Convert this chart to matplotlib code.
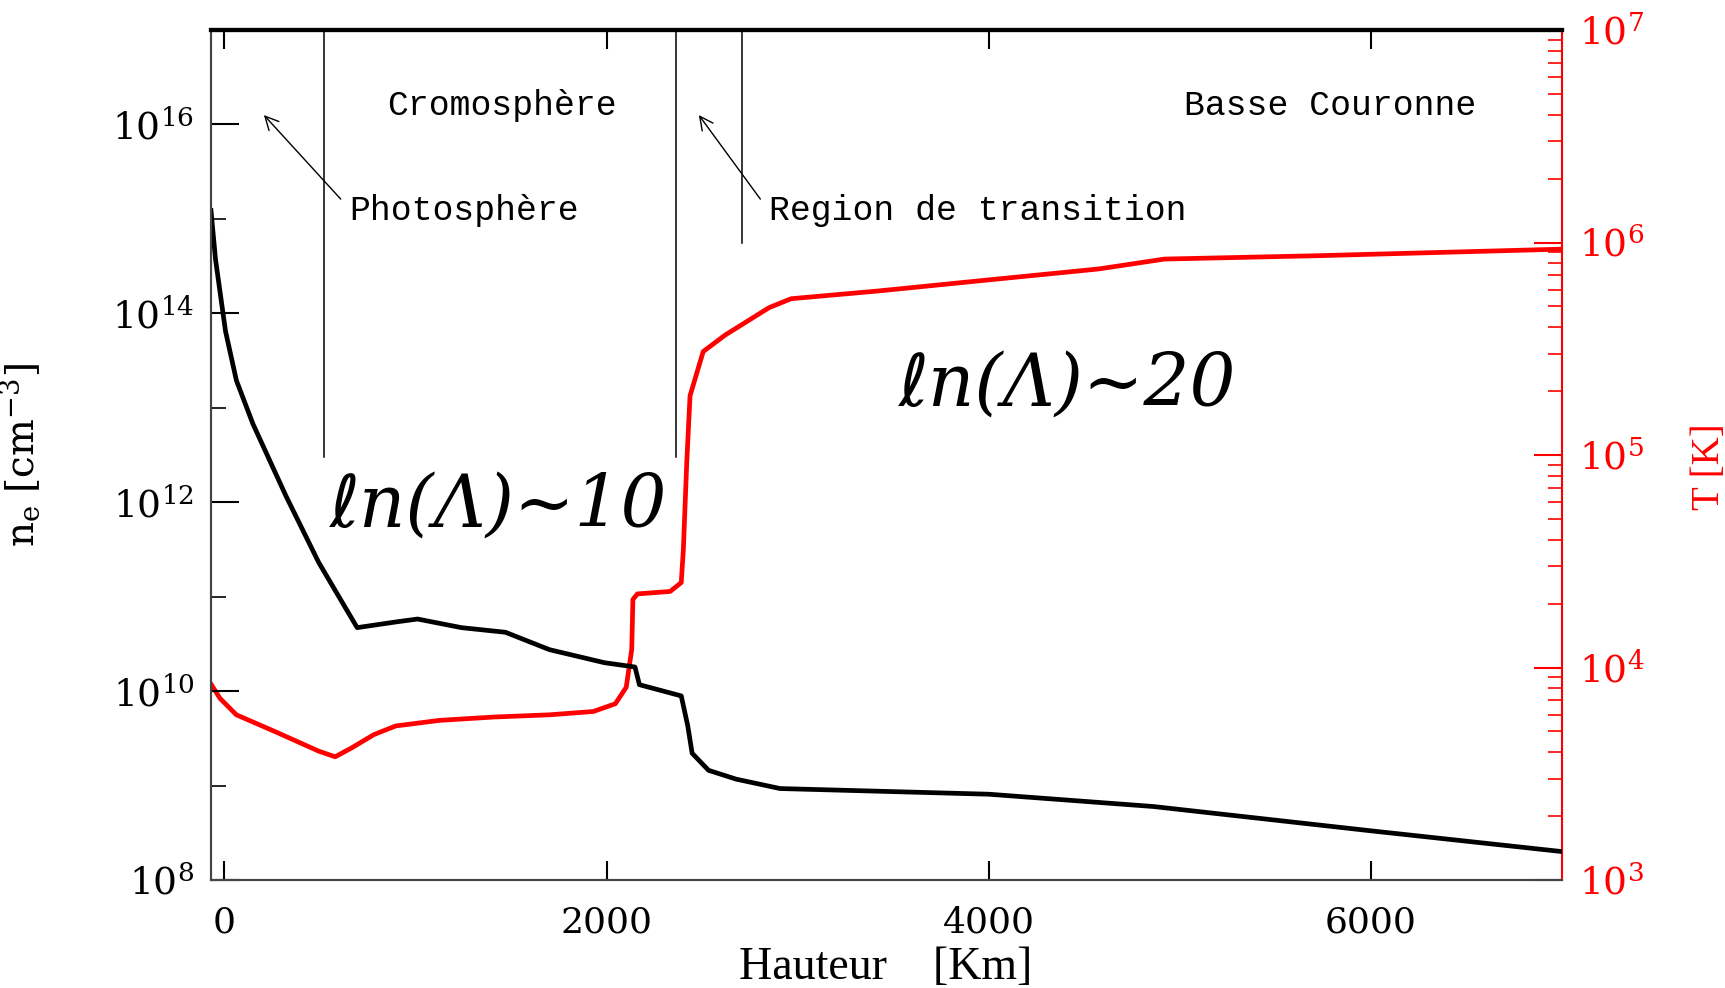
import numpy as np
import matplotlib.pyplot as plt
from matplotlib.ticker import FixedLocator, LogLocator, NullFormatter

plt.rcParams['mathtext.fontset'] = 'dejavuserif'
plt.rcParams['font.family'] = 'DejaVu Serif'

# electron density n_e [cm^-3] vs height [km]
height_ne = [-70, -46, 6, 63, 149, 322, 494, 695, 897, 1011, 1241, 1471, 1701,
             1989, 2149, 2172, 2391, 2425, 2448, 2534, 2678, 2908, 4000, 4862,
             6011, 7000]
ne = [1.23e15, 3.7e14, 6.5e13, 1.95e13, 6.8e12, 1.17e12, 2.3e11, 4.7e10,
      5.4e10, 5.8e10, 4.7e10, 4.2e10, 2.75e10, 2.0e10, 1.8e10, 1.17e10, 8.9e9,
      4.3e9, 2.2e9, 1.45e9, 1.17e9, 9.3e8, 8.1e8, 6.0e8, 3.3e8, 2.0e8]

# temperature T [K] vs height [km]
height_T = [-70, -23, 63, 264, 494, 580, 667, 782, 897, 1126, 1414, 1701, 1931,
            2046, 2103, 2132, 2138, 2161, 2333, 2391, 2402, 2420, 2437, 2506,
            2621, 2851, 2966, 3425, 3999, 4575, 4920, 5724, 7000]
temp = [8360, 7160, 5990, 5000, 4040, 3800, 4190, 4830, 5310, 5640, 5850, 5990,
        6210, 6750, 8070, 12200, 20900, 22200, 22800, 25100, 35800, 93000,
        190000, 307000, 367000, 494000, 544000, 592000, 667000, 751000, 836000,
        867000, 931000]

x_ticks = [0, 2000, 4000, 6000]
ne_tick_exp = [8, 10, 12, 14, 16]
ne_minor = [1e9, 1e11, 1e13, 1e15]
T_tick_exp = [3, 4, 5, 6, 7]

# region boundaries and their lower ends (in n_e units)
boundary_x = [523, 2362, 2707]
boundary_low = [3.0e12, 3.0e12, 5.5e14]

fig = plt.figure(figsize=(17.25, 9.88), dpi=100)
ax = fig.add_axes([0.1223, 0.1093, 0.7832, 0.8603])
ax2 = ax.twinx()
ax.set_zorder(ax2.get_zorder() + 1)
ax.patch.set_visible(False)

ax2.plot(height_T, temp, color='red', lw=3.4)
ax.plot(height_ne, ne, color='black', lw=3.4)

ax.set_xlim(-70, 7000)
ax.set_yscale('log')
ax.set_ylim(1e8, 1e17)
ax2.set_yscale('log')
ax2.set_ylim(1e3, 1e7)

# x axis
ax.set_xticks(x_ticks)
ax.set_xticklabels([str(v) for v in x_ticks])
ax.tick_params(axis='x', which='major', direction='in', length=14, width=1.5,
               top=True, bottom=True, labelsize=26, pad=18)
ax.tick_params(axis='x', which='minor', top=False, bottom=False)

# left axis
ax.yaxis.set_major_locator(FixedLocator([10.0 ** e for e in ne_tick_exp]))
ax.set_yticklabels([r'$10^{%d}$' % e for e in ne_tick_exp])
ax.yaxis.set_minor_locator(FixedLocator(ne_minor))
ax.yaxis.set_minor_formatter(NullFormatter())
ax.tick_params(axis='y', which='major', direction='in', length=20, width=1.5,
               labelsize=27, pad=12, right=False)
ax.tick_params(axis='y', which='minor', direction='in', length=11, width=1.2,
               right=False)

# right axis
ax2.yaxis.set_major_locator(FixedLocator([10.0 ** e for e in T_tick_exp]))
ax2.set_yticklabels([r'$10^{%d}$' % e for e in T_tick_exp])
ax2.yaxis.set_minor_locator(LogLocator(base=10, subs=range(2, 10)))
ax2.yaxis.set_minor_formatter(NullFormatter())
ax2.tick_params(axis='y', which='major', direction='in', length=20, width=1.5,
                color='red', labelcolor='red', labelsize=27, pad=12)
ax2.tick_params(axis='y', which='minor', direction='in', length=10, width=1.2,
                color='red')

for a in (ax, ax2):
    a.spines['top'].set_linewidth(3)
    a.spines['left'].set_linewidth(1.5)
    a.spines['left'].set_color('#444444')
    a.spines['bottom'].set_linewidth(1.5)
    a.spines['bottom'].set_color('#444444')
ax.spines['right'].set_visible(False)
ax2.spines['right'].set_color('red')
ax2.spines['right'].set_linewidth(1.5)

ax.set_xlabel('Hauteur    [Km]', fontsize=33, family='Liberation Serif')
ax.xaxis.set_label_coords(0.499, -0.078)
ax.set_ylabel(r'$\mathregular{n_e\ [cm^{-3}]}$', fontsize=28)
ax.yaxis.set_label_coords(-0.125, 0.5)
ax2.set_ylabel('T [K]', fontsize=28, color='red', family='Liberation Serif')
ax2.yaxis.set_label_coords(1.0955, 0.486)

# region boundaries
for bx, low in zip(boundary_x, boundary_low):
    ax.plot([bx, bx], [low, 1e17], color='black', lw=1.1)

lab = dict(fontsize=25, family='Liberation Mono', color='black')
ax.text(1454, 10 ** 16.2, 'Cromosphère', ha='center', va='center', **lab)
ax.text(5787, 10 ** 16.2, 'Basse Couronne', ha='center', va='center', **lab)
ax.text(655, 10 ** 15.09, 'Photosphère', ha='left', va='center', **lab)
ax.text(2851, 10 ** 15.09, 'Region de transition', ha='left', va='center',
        **lab)
arrow = dict(arrowstyle='->', lw=1.0, color='black', shrinkA=0, shrinkB=0,
             mutation_scale=24)
ax.annotate('', xy=(207, 10 ** 16.1), xytext=(609, 10 ** 15.21),
            arrowprops=arrow)
ax.annotate('', xy=(2483, 10 ** 16.1), xytext=(2805, 10 ** 15.21),
            arrowprops=arrow)

# hand written notes
hand = dict(fontsize=52, style='italic', ha='center', va='center',
            family=['DejaVu Serif', 'DejaVu Sans'], transform=ax.transAxes)
ax.text(0.213, 0.44, 'ℓn(Λ)~10', **hand)
ax.text(0.634, 0.582, 'ℓn(Λ)~20', **hand)

fig.savefig('out.png', dpi=100)
